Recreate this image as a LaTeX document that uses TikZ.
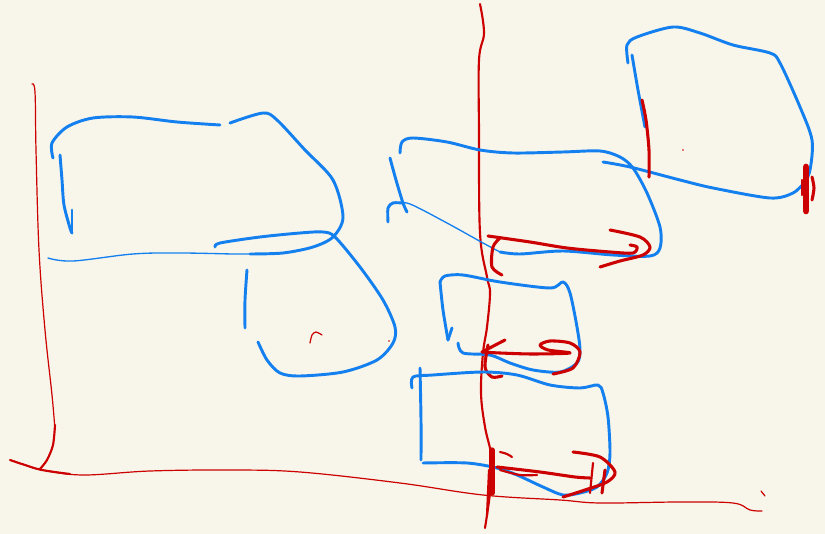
\documentclass[tikz,border=0pt]{standalone}
\begin{document}
\begin{tikzpicture}[x=0.75pt,y=-0.75pt,
  bl/.style={draw=skb,line width=2.2pt,line cap=round,line join=round},
  blthin/.style={draw=skb,line width=1pt,line cap=round,line join=round},
  rd/.style={draw=skr,line width=2.3pt,line cap=round,line join=round},
  rdmid/.style={draw=skr,line width=1.6pt,line cap=round,line join=round},
  rdthin/.style={draw=skr,line width=0.9pt,line cap=round,line join=round}]
\definecolor{skb}{RGB}{20,128,240}
\definecolor{skr}{RGB}{204,0,0}
\definecolor{bgc}{RGB}{248,246,234}
\useasboundingbox (0,0) rectangle (825,534);
\fill[bgc] (0,0) rectangle (825,534);

% ---------- left figure ----------
% red axes
\draw[rdthin] plot[smooth,tension=0.6] coordinates {(32,84) (35,92) (36,150) (39,250) (45,330) (52,395) (55,430)};
\draw[rdmid] plot[smooth] coordinates {(55,425) (53,445) (47,460) (40,469)};
\draw[rdthin] plot[smooth,tension=0.6] coordinates {(10,460) (25,465) (42,470) (83,475) (150,471) (230,470) (300,472) (400,483) (483,495) (560,500) (600,503) (680,502) (733,503) (750,510) (762,511)};
\draw[rdmid] plot[smooth,tension=0.6] coordinates {(10,460) (25,465) (42,470) (70,474)};
\draw[rdthin] (761,491) -- (765,496);

% blue upper box outline
\draw[bl] plot[smooth] coordinates {(53,158) (52,143) (67,127) (93,118) (133,117) (177,122) (220,125)};
\draw[bl] plot[smooth] coordinates {(230,123) (263,113) (277,120) (305,150) (333,180) (343,217) (333,237) (313,247) (283,253) (250,254)};
\draw[blthin] plot[smooth,tension=0.6] coordinates {(250,254) (233,254) (180,253) (133,254) (73,261) (48,258)};
\draw[bl] plot[smooth] coordinates {(60,155) (62,180) (64,205) (70,228) (72,233)};
\draw[bl] (72,233) -- (72,210);
% blue lower-left shape
\draw[bl] plot[smooth] coordinates {(215,247) (220,243) (260,237) (300,233) (323,232) (335,237) (360,267) (383,300) (395,327) (393,343) (377,360) (343,372) (300,376) (280,373) (267,360) (258,342)};
\draw[bl] plot[smooth] coordinates {(247,270) (245,300) (245,328)};
\draw[rdthin] plot[smooth] coordinates {(310,343) (312,335) (316,332) (322,335)};
\fill[skr] (389,341) circle (0.9);

% ---------- centre vertical red line ----------
\draw[rdmid] plot[smooth,tension=0.6] coordinates {(480,4) (484,33) (479,60) (479,133) (480,233) (487,277) (490,293) (487,327) (483,353) (481,393) (485,427) (492,460) (490,493) (485,528)};

% ---------- middle top box ----------
\draw[bl] plot[smooth] coordinates {(400,153) (402,142) (413,138) (447,142) (480,150) (513,153) (563,152) (600,151) (620,157) (633,168) (647,193) (660,227) (660,248) (650,256) (613,255) (563,251) (520,254) (500,252)};
\draw[blthin] plot[smooth] coordinates {(500,252) (483,243) (447,223) (410,204) (395,203)};
\draw[bl] plot[smooth] coordinates {(390,158) (396,180) (403,203) (407,212)};
\draw[bl] plot[smooth] coordinates {(388,222) (388,208) (393,203) (402,203)};
% red arrow in middle top box
\draw[rd] plot[smooth] coordinates {(488,236) (530,242) (567,248) (610,252) (633,253) (637,247) (630,245)};
\draw[rd] plot[smooth] coordinates {(610,230) (640,237) (650,247) (643,255) (620,261) (600,267)};
\draw[rd] plot[smooth] coordinates {(500,238) (493,247) (492,267) (502,275)};

% ---------- right top box ----------
\draw[bl] plot[smooth] coordinates {(628,63) (627,45) (637,37) (673,27) (700,33) (733,45) (770,53) (780,63) (800,107) (812,140) (810,170) (803,187)};
\draw[bl] plot[smooth] coordinates {(603,162) (630,167) (680,180) (713,188) (770,198) (793,193) (805,182)};
\draw[bl] plot[smooth] coordinates {(632,55) (638,90) (645,127)};
\draw[rd] plot[smooth] coordinates {(642,100) (646,120) (649,150) (649,177)};
\fill[skr] (683,150) circle (0.9);
\draw[skr,line width=5pt,line cap=round] (806,167) -- (806,211);
\draw[rd] plot[smooth] coordinates {(812,177) (814,188) (812,200)};
\draw[rdmid] (802,180) -- (802,195);

% ---------- middle box ----------
\draw[bl] plot[smooth] coordinates {(440,282) (445,276) (463,275) (500,282) (550,288) (563,282) (570,293) (577,327) (580,350) (577,363) (560,372) (533,370) (510,363) (490,355) (463,353) (458,343)};
\draw[bl] plot[smooth] coordinates {(440,282) (443,310) (448,340)};
\draw[bl] (448,340) -- (452,328);
% red arrow
\draw[rd] plot[smooth] coordinates {(553,374) (573,368) (580,352) (570,343) (550,341) (540,345) (548,350) (570,353) (533,354) (500,353) (482,352)};
\draw[rd] (482,352) -- (505,340);
\draw[rd] plot[smooth] coordinates {(488,345) (485,367) (492,377) (502,376)};

% ---------- lower box ----------
\draw[bl] plot[smooth] coordinates {(412,388) (413,377) (433,375) (483,372) (517,375) (550,385) (580,388) (598,385) (603,393) (608,417) (610,453) (607,473) (597,487) (580,493) (563,495) (543,487) (517,475) (497,468) (467,463) (423,463)};
\draw[bl] plot[smooth] coordinates {(420,368) (421,420) (421,460)};
% red marks
\draw[skr,line width=4pt,line cap=round] (492,450) -- (492,493);
\draw[rdmid] (489,470) -- (487,515);
\draw[rd] plot[smooth] coordinates {(497,467) (540,472) (575,477) (590,478)};
\draw[rd] plot[smooth] coordinates {(573,452) (600,457) (615,472) (607,482) (585,490) (563,497)};
\draw[rdmid] (593,463) -- (590,493);
\draw[rd] (605,470) -- (602,493);
\draw[rdmid] plot[smooth] coordinates {(500,452) (507,454) (512,457)};
\draw[rdmid] plot[smooth] coordinates {(500,470) (520,475) (537,475)};
\end{tikzpicture}
\end{document}
